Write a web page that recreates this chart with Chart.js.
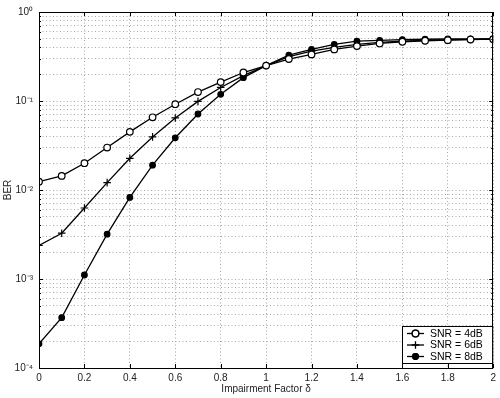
<!DOCTYPE html>
<html><head><meta charset="utf-8">
<script src="https://cdn.jsdelivr.net/npm/chart.js@4"></script>
<style>html,body{margin:0;padding:0;background:#fff}</style>
</head><body>
<canvas id="c" width="500" height="398"></canvas>
<script>
// ---- data ----
const delta = [0, 0.1, 0.2, 0.3, 0.4, 0.5, 0.6, 0.7, 0.8, 0.9, 1.0, 1.1, 1.2, 1.3, 1.4, 1.5, 1.6, 1.7, 1.8, 1.9, 2.0];
const ber4dB = [0.0124, 0.0144, 0.020, 0.030, 0.045, 0.0656, 0.092, 0.126, 0.163, 0.209, 0.25, 0.296, 0.334, 0.38, 0.414, 0.443, 0.463, 0.475, 0.483, 0.49, 0.495];
const ber6dB = [0.00238, 0.00327, 0.00628, 0.0121, 0.0227, 0.0395, 0.0645, 0.099, 0.142, 0.193, 0.25, 0.315, 0.364, 0.40, 0.432, 0.455, 0.47, 0.48, 0.487, 0.493, 0.497];
const ber8dB = [0.000187, 0.000368, 0.00111, 0.00319, 0.00826, 0.019, 0.0386, 0.0714, 0.119, 0.183, 0.25, 0.328, 0.38, 0.432, 0.47, 0.48, 0.49, 0.494, 0.497, 0.499, 0.5];
const seriesLabels = ['SNR = 4dB', 'SNR = 6dB', 'SNR = 8dB'];
const xTickValues = [0, 0.2, 0.4, 0.6, 0.8, 1, 1.2, 1.4, 1.6, 1.8, 2];
const yDecades = [1e-4, 1e-3, 1e-2, 1e-1, 1];
const yDecadeLabels = ['10\u207B\u2074', '10\u207B\u00B3', '10\u207B\u00B2', '10\u207B\u00B9', '10\u2070'];
const xTitle = 'Impairment Factor \u03B4';
const yTitle = 'BER';

// ---- derived tick list (1..9 x each decade) ----
const yTickValues = [];
for (let i = 0; i < yDecades.length - 1; i++) {
  for (let m = 1; m <= 9; m++) yTickValues.push(Number((m * yDecades[i]).toPrecision(10)));
}
yTickValues.push(yDecades[yDecades.length - 1]);

function decadeIndex(v) {
  for (let i = 0; i < yDecades.length; i++) {
    if (Math.abs(Math.log10(v) - Math.log10(yDecades[i])) < 1e-6) return i;
  }
  return -1;
}

const FONT = 'Liberation Sans, Arial, Helvetica, sans-serif';
const pts = arr => delta.map((d, i) => ({x: d, y: arr[i]}));
const styles = [
  {pointStyle: 'circle', radius: 3.3, fill: '#fff'},
  {pointStyle: 'cross', radius: 3.8, fill: '#000'},
  {pointStyle: 'circle', radius: 2.8, fill: '#000'}
];
const seriesData = [ber4dB, ber6dB, ber8dB];

const frame = {
  id: 'frame',
  afterDatasetsDraw(chart) {
    const {ctx, chartArea: a, scales} = chart;
    ctx.save();
    ctx.strokeStyle = '#000';
    ctx.lineWidth = 1;
    ctx.setLineDash([]);
    ctx.strokeRect(Math.round(a.left) + 0.5, Math.round(a.top) + 0.5, Math.round(a.right - a.left) - 1, Math.round(a.bottom - a.top));
    ctx.beginPath();
    xTickValues.forEach(v => {
      const x = Math.round(scales.x.getPixelForValue(v)) + 0.5;
      ctx.moveTo(x, a.bottom); ctx.lineTo(x, a.bottom - 4);
      ctx.moveTo(x, a.top); ctx.lineTo(x, a.top + 4);
    });
    yTickValues.forEach(v => {
      const y = Math.round(scales.y.getPixelForValue(v)) + 0.5;
      const len = decadeIndex(v) >= 0 ? 4 : 2;
      ctx.moveTo(a.left, y); ctx.lineTo(a.left + len, y);
      ctx.moveTo(a.right, y); ctx.lineTo(a.right - len, y);
    });
    ctx.stroke();

    // legend
    const bx = 402, by = 326, bw = a.right - 402 - 1, bh = 37;
    ctx.fillStyle = '#fff';
    ctx.fillRect(bx, by, bw, bh);
    ctx.strokeRect(bx + 0.5, by + 0.5, bw, bh);
    ctx.font = '10.5px ' + FONT;
    ctx.textBaseline = 'middle';
    seriesLabels.forEach((lab, i) => {
      const y = by + 7.5 + i * 11.5;
      ctx.strokeStyle = '#000'; ctx.lineWidth = 1.3;
      ctx.beginPath(); ctx.moveTo(407, y); ctx.lineTo(424, y); ctx.stroke();
      Chart.helpers.drawPoint(ctx, {pointStyle: styles[i].pointStyle, radius: styles[i].radius, borderWidth: 1.3}, 415.5, y);
      ctx.fillStyle = styles[i].fill;
      ctx.beginPath();
      if (styles[i].pointStyle === 'circle') { ctx.arc(415.5, y, styles[i].radius, 0, Math.PI * 2); ctx.fill(); ctx.stroke(); }
      ctx.fillStyle = '#000';
      ctx.fillText(lab, 430, y + 0.5);
    });
    ctx.restore();
  }
};

new Chart(document.getElementById('c'), {
  type: 'line',
  data: {
    datasets: seriesData.map((arr, i) => ({
      label: seriesLabels[i],
      data: pts(arr),
      borderColor: '#000',
      borderWidth: 1.3,
      pointStyle: styles[i].pointStyle,
      pointRadius: styles[i].radius,
      pointBackgroundColor: styles[i].fill,
      pointBorderColor: '#000',
      pointBorderWidth: 1.2,
      tension: 0,
      fill: false
    }))
  },
  options: {
    responsive: false,
    animation: false,
    events: [],
    layout: {padding: {top: 10, right: 5, left: 0, bottom: 0}},
    plugins: {legend: {display: false}, tooltip: {enabled: false}},
    scales: {
      x: {
        type: 'linear', min: 0, max: 2,
        afterFit: s => { s.height = 30; },
        afterBuildTicks: s => { s.ticks = xTickValues.map(v => ({value: v})); },
        border: {display: false, dash: [1, 2.5]},
        grid: {color: '#a8a8a8', drawTicks: false, lineWidth: 1},
        ticks: {color: '#222', font: {family: FONT, size: 10}, padding: 4, maxRotation: 0, autoSkip: false,
          callback: v => String(Number(v.toFixed(1)))},
        title: {display: true, text: xTitle, color: '#222', font: {family: FONT, size: 10}, padding: {top: 2, bottom: 3}}
      },
      y: {
        type: 'logarithmic', min: 1e-4, max: 1,
        afterFit: s => { s.width = 39; },
        afterBuildTicks: s => { s.ticks = yTickValues.map(v => ({value: v, major: decadeIndex(v) >= 0})); },
        border: {display: false, dash: [1, 2.5]},
        grid: {color: '#a8a8a8', drawTicks: false, lineWidth: 1},
        ticks: {color: '#222', font: {family: FONT, size: 10}, padding: 6, autoSkip: false,
          callback: v => { const i = decadeIndex(v); return i >= 0 ? yDecadeLabels[i] : ''; }},
        title: {display: true, text: yTitle, color: '#222', font: {family: FONT, size: 10}, padding: {top: 2, bottom: 0}}
      }
    }
  },
  plugins: [frame]
});
</script>
</body></html>
